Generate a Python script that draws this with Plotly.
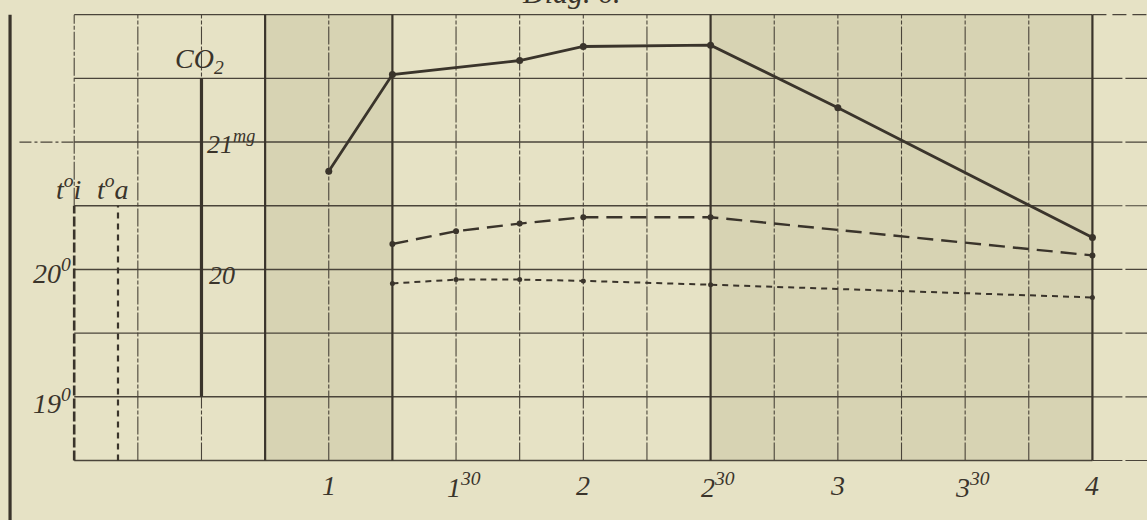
import numpy as np
import plotly.graph_objects as go

# ---------------- data ----------------
hours_co2 = [1.0, 1.25, 1.75, 2.0, 2.5, 3.0, 4.0]
co2_mg = [20.77, 21.53, 21.64, 21.75, 21.76, 21.27, 20.25]

hours_temp = [1.25, 1.5, 1.75, 2.0, 2.5, 4.0]
temp_inside = [20.20, 20.30, 20.36, 20.41, 20.41, 20.11]
temp_outside = [19.89, 19.92, 19.92, 19.91, 19.88, 19.78]

tick_hours = [1, 1.5, 2, 2.5, 3, 3.5, 4]
tick_labels = ["1", "1<sup>30</sup>", "2", "2<sup>30</sup>", "3", "3<sup>30</sup>", "4"]

shaded_periods = [(0.75, 1.25), (2.5, 4.0)]
thick_hours = [0.75, 1.25, 2.5, 4.0]

# ---------------- styling ----------------
BG = "#e6e2c5"
SHADE = "#d7d3b3"
INK = "#3a342b"
GRID = "#4a443a"
FONT = "Liberation Serif"

X0, X1 = -0.2915, 4.2144
Y0, Y1 = 18.033, 22.115
GX0, GX1 = 0.0, 4.0
GY0, GY1 = 18.5, 22.0

fig = go.Figure()

shapes = []
for a, b in shaded_periods:
    shapes.append(dict(type="rect", xref="x", yref="y", x0=a, x1=b, y0=GY0, y1=GY1,
                       fillcolor=SHADE, line=dict(width=0), layer="below"))

# horizontal grid lines
for v in np.arange(GY0, GY1 + 1e-9, 0.5):
    shapes.append(dict(type="line", xref="x", yref="y", x0=GX0, x1=GX1, y0=v, y1=v,
                       line=dict(color=GRID, width=1.4), layer="below"))
    shapes.append(dict(type="line", xref="x", yref="y", x0=GX1, x1=X1, y0=v, y1=v,
                       line=dict(color=GRID, width=1.2, dash="14px,6px" if v == GY1 else "30px,3px"),
                       layer="below"))
# extension of the 21 line to the left
shapes.append(dict(type="line", xref="x", yref="y", x0=-0.215, x1=GX0, y0=21.0, y1=21.0,
                   line=dict(color=GRID, width=1.2, dash="12px,3px,3px,3px"), layer="below"))

# vertical grid lines
for h in np.arange(GX0, GX1 + 1e-9, 0.25):
    if any(abs(h - t) < 1e-9 for t in thick_hours):
        shapes.append(dict(type="line", xref="x", yref="y", x0=h, x1=h, y0=GY0, y1=GY1,
                           line=dict(color=INK, width=2.2), layer="below"))
    else:
        lo = 20.5 if abs(h) < 1e-9 else GY0
        shapes.append(dict(type="line", xref="x", yref="y", x0=h, x1=h, y0=lo, y1=GY1,
                           line=dict(color=GRID, width=1.1, dash="18px,2px,4px,2px"), layer="below"))

# legend-like sample lines for t_i and t_a
shapes.append(dict(type="line", xref="x", yref="y", x0=0.0, x1=0.0, y0=GY0, y1=20.5,
                   line=dict(color=INK, width=2.6, dash="10px,3px"), layer="above"))
shapes.append(dict(type="line", xref="x", yref="y", x0=0.172, x1=0.172, y0=GY0, y1=20.5,
                   line=dict(color=INK, width=2.2, dash="6px,5px"), layer="above"))
# CO2 scale bar
shapes.append(dict(type="line", xref="x", yref="y", x0=0.5, x1=0.5, y0=19.0, y1=21.5,
                   line=dict(color=INK, width=3.2), layer="above"))
# left border bar
shapes.append(dict(type="line", xref="x", yref="y", x0=-0.252, x1=-0.252, y0=Y0 - 0.1, y1=22.0,
                   line=dict(color=INK, width=3.2), layer="above"))

# ---------------- data traces ----------------
fig.add_trace(go.Scatter(x=hours_co2, y=co2_mg, mode="lines+markers",
                         line=dict(color=INK, width=2.8),
                         marker=dict(color=INK, size=7), showlegend=False))
fig.add_trace(go.Scatter(x=hours_temp, y=temp_inside, mode="lines+markers",
                         line=dict(color=INK, width=2.4, dash="16px,8px"),
                         marker=dict(color=INK, size=6), showlegend=False))
fig.add_trace(go.Scatter(x=hours_temp, y=temp_outside, mode="lines+markers",
                         line=dict(color=INK, width=2.0, dash="6px,5px"),
                         marker=dict(color=INK, size=5), showlegend=False))

# ---------------- text ----------------
ann = []
def txt(s, x, y, size, xa="center", ya="middle"):
    ann.append(dict(text="<i>" + s + "</i>", x=x, y=y, xref="x", yref="y", showarrow=False,
                    xanchor=xa, yanchor=ya, font=dict(family=FONT, size=size, color=INK)))

for h, lab in zip(tick_hours, tick_labels):
    txt(lab, h + (0.03 if "sup" in lab else 0.0), 18.3, 28)

txt("Diag. 6.", 1.955, 22.025, 30, ya="bottom")
txt("CO<sub>2</sub>", 0.494, 21.64, 28)
txt("21<sup>mg</sup>", 0.512, 21.0, 26, xa="left")
txt("20", 0.52, 19.95, 26, xa="left")
txt("20<sup>0</sup>", -0.004, 19.98, 28, xa="right")
txt("19<sup>0</sup>", -0.004, 18.96, 28, xa="right")
txt("t<sup>o</sup>i", -0.024, 20.64, 28)
txt("t<sup>o</sup>a", 0.152, 20.64, 28)

fig.update_layout(
    width=1147, height=520,
    margin=dict(l=0, r=0, t=0, b=0),
    paper_bgcolor=BG, plot_bgcolor=BG,
    shapes=shapes, annotations=ann,
    xaxis=dict(range=[X0, X1], visible=False, fixedrange=True),
    yaxis=dict(range=[Y0, Y1], visible=False, fixedrange=True),
    showlegend=False,
)

fig.write_html("out.html", config={"displayModeBar": False},
               post_script="document.body.style.margin='0';document.body.style.background='" + BG + "';")
